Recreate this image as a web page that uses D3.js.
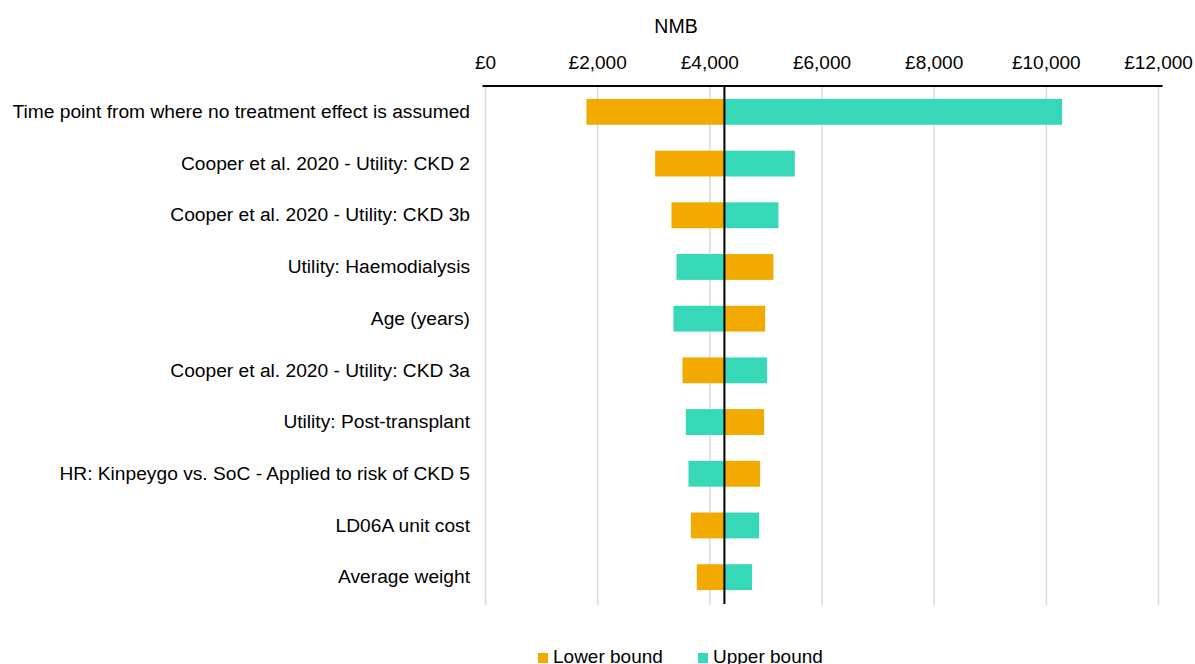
<!DOCTYPE html>
<html><head><meta charset="utf-8">
<script src="https://cdn.jsdelivr.net/npm/d3@7"></script>
<style>body{margin:0;background:#fff}svg{display:block}text{font-family:"Liberation Sans",Arial,sans-serif;fill:#000}</style>
</head><body><svg id="c" width="1195" height="664"></svg>
<script>
const categories = ["Time point from where no treatment effect is assumed","Cooper et al. 2020 - Utility: CKD 2","Cooper et al. 2020 - Utility: CKD 3b","Utility: Haemodialysis","Age (years)","Cooper et al. 2020 - Utility: CKD 3a","Utility: Post-transplant","HR: Kinpeygo vs. SoC - Applied to risk of CKD 5","LD06A unit cost","Average weight"];
const lowerBound = [1800, 3025, 3316, 5134, 4986, 3512, 4968, 4897, 3661, 3768];
const upperBound = [10280, 5515, 5223, 3405, 3351, 5021, 3572, 3619, 4879, 4754];
const baseValue = 4260;
const xTicks = [0, 2000, 4000, 6000, 8000, 10000, 12000];
const seriesNames = ["Lower bound", "Upper bound"];
const colors = {"Lower bound": "#F2A900", "Upper bound": "#37D8B8"};

const svg = d3.select("#c");
const pLeft = 485.5, pRight = 1158.5, pTop = 86, pBottom = 603;
const x = d3.scaleLinear().domain([0, 12000]).range([pLeft, pRight]);
const y = d3.scaleBand().domain(categories).range([pTop, pBottom]).paddingInner(0.5).paddingOuter(0.25);

// gridlines
svg.append("g").selectAll("line").data(xTicks).join("line")
  .attr("x1", d => x(d)).attr("x2", d => x(d)).attr("y1", pTop).attr("y2", pBottom + 2)
  .attr("stroke", "#d9d9d9").attr("stroke-width", 1.5);

// tick labels
const fmt = d => "£" + d3.format(",")(d);
svg.append("g").selectAll("text").data(xTicks).join("text")
  .attr("x", d => x(d)).attr("y", 68.5).attr("text-anchor", "middle")
  .attr("font-size", 19).text(fmt);

svg.append("text").attr("x", 676).attr("y", 33).attr("text-anchor", "middle").attr("font-size", 19.5).text("NMB");

// bars
const rows = categories.map((c, i) => ({c, lo: lowerBound[i], hi: upperBound[i]}));
const g = svg.append("g");
rows.forEach(r => {
  [["Lower bound", r.lo], ["Upper bound", r.hi]].forEach(([s, v]) => {
    g.append("rect")
      .attr("x", x(Math.min(v, baseValue))).attr("width", Math.abs(x(v) - x(baseValue)))
      .attr("y", y(r.c)).attr("height", y.bandwidth())
      .attr("fill", colors[s]);
  });
});

// category labels
svg.append("g").selectAll("text").data(categories).join("text")
  .attr("x", 470).attr("y", d => y(d) + y.bandwidth() / 2 - 0.5).attr("dy", "0.35em")
  .attr("text-anchor", "end").attr("font-size", 19.2).text(d => d);

// top axis line
svg.append("line").attr("x1", pLeft - 3).attr("x2", pRight + 4).attr("y1", pTop).attr("y2", pTop)
  .attr("stroke", "#000").attr("stroke-width", 2);
// base line
svg.append("line").attr("x1", x(baseValue)).attr("x2", x(baseValue)).attr("y1", pTop).attr("y2", pBottom + 1)
  .attr("stroke", "#000").attr("stroke-width", 2);

// legend
const leg = svg.append("g");
const legX = [538, 698];
seriesNames.forEach((s, i) => {
  leg.append("rect").attr("x", legX[i]).attr("y", 653).attr("width", 10).attr("height", 10).attr("fill", colors[s]);
  leg.append("text").attr("x", legX[i] + 15).attr("y", 663).attr("font-size", 19).text(s);
});
</script></body></html>
